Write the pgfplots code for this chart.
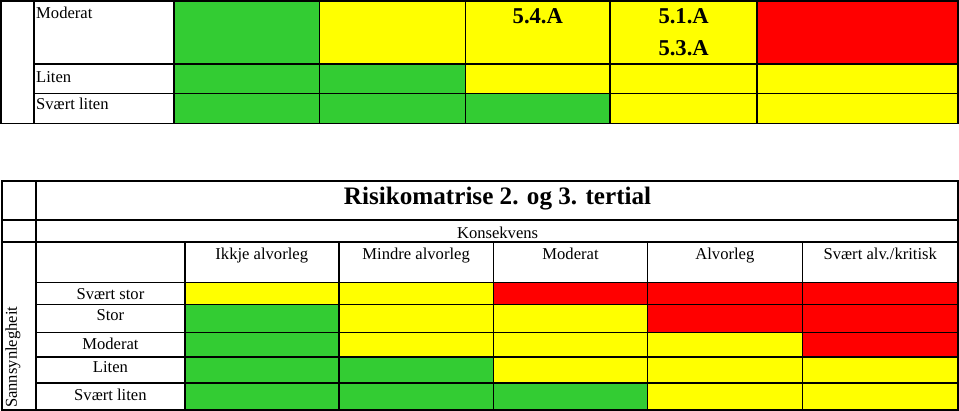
\documentclass[border=0pt]{standalone}
\usepackage{pgfplots}
\pgfplotsset{compat=1.18}
\usepackage{fontspec}
\setmainfont{Liberation Serif}

\definecolor{rgreen}{RGB}{51,204,51}
\definecolor{ryellow}{RGB}{255,255,0}
\definecolor{rred}{RGB}{255,0,0}

% one table cell: x0 x1 y0 y1 fill
\newcommand{\cell}[5]{%
  \addplot[fill=#5, draw=black, line width=1.6pt, line join=miter]
    coordinates {(#1,#3) (#2,#3) (#2,#4) (#1,#4)} -- cycle;}

\newcommand{\txt}{\fontsize{16.5}{18}\selectfont}

\begin{document}
\begin{tikzpicture}
\begin{axis}[
    width=959pt, height=420pt, scale only axis,
    xmin=0, xmax=959, ymin=0, ymax=420,
    y dir=reverse,
    hide axis, clip=false,
  ]
  % ---- upper (cut off) matrix ----
  \cell{3}{36}{5}{127}{white}
  \cell{36}{175}{5}{68}{white}
  \cell{36}{175}{68}{97}{white}
  \cell{36}{175}{97}{127}{white}
  % row Moderat
  \cell{175}{320}{5}{68}{rgreen}
  \cell{320}{465}{5}{68}{ryellow}
  \cell{465}{609}{5}{68}{ryellow}
  \cell{609}{755}{5}{68}{ryellow}
  \cell{755}{955}{5}{68}{rred}
  % row Liten
  \cell{175}{320}{68}{97}{rgreen}
  \cell{320}{465}{68}{97}{rgreen}
  \cell{465}{609}{68}{97}{ryellow}
  \cell{609}{755}{68}{97}{ryellow}
  \cell{755}{955}{68}{97}{ryellow}
  % row Svaert liten
  \cell{175}{320}{97}{127}{rgreen}
  \cell{320}{465}{97}{127}{rgreen}
  \cell{465}{609}{97}{127}{rgreen}
  \cell{609}{755}{97}{127}{ryellow}
  \cell{755}{955}{97}{127}{ryellow}

  \node[anchor=base west, inner sep=0pt] at (axis cs:38,23) {\txt Moderat};
  \node[anchor=base west, inner sep=0pt] at (axis cs:38,86) {\txt Liten};
  \node[anchor=base west, inner sep=0pt] at (axis cs:38,113) {\txt Svært liten};
  \node[anchor=base, inner sep=0pt] at (axis cs:537,28) {\fontsize{22.5}{24}\selectfont\bfseries 5.4.A};
  \node[anchor=base, inner sep=0pt] at (axis cs:682,28) {\fontsize{22.5}{24}\selectfont\bfseries 5.1.A};
  \node[anchor=base, inner sep=0pt] at (axis cs:682,59) {\fontsize{22.5}{24}\selectfont\bfseries 5.3.A};

  % ---- lower matrix ----
  \cell{4}{38}{184}{223}{white}
  \cell{4}{38}{223}{245}{white}
  \cell{4}{38}{245}{412}{white}
  \cell{38}{955}{184}{223}{white}
  \cell{38}{955}{223}{245}{white}
  \cell{38}{186}{245}{285}{white}
  \cell{186}{339}{245}{285}{white}
  \cell{339}{493}{245}{285}{white}
  \cell{493}{646}{245}{285}{white}
  \cell{646}{800}{245}{285}{white}
  \cell{800}{955}{245}{285}{white}
  \cell{38}{186}{285}{307}{white}
  \cell{38}{186}{307}{335}{white}
  \cell{38}{186}{335}{359}{white}
  \cell{38}{186}{359}{385}{white}
  \cell{38}{186}{385}{412}{white}
  % Svaert stor
  \cell{186}{339}{285}{307}{ryellow}
  \cell{339}{493}{285}{307}{ryellow}
  \cell{493}{646}{285}{307}{rred}
  \cell{646}{800}{285}{307}{rred}
  \cell{800}{955}{285}{307}{rred}
  % Stor
  \cell{186}{339}{307}{335}{rgreen}
  \cell{339}{493}{307}{335}{ryellow}
  \cell{493}{646}{307}{335}{ryellow}
  \cell{646}{800}{307}{335}{rred}
  \cell{800}{955}{307}{335}{rred}
  % Moderat
  \cell{186}{339}{335}{359}{rgreen}
  \cell{339}{493}{335}{359}{ryellow}
  \cell{493}{646}{335}{359}{ryellow}
  \cell{646}{800}{335}{359}{ryellow}
  \cell{800}{955}{335}{359}{rred}
  % Liten
  \cell{186}{339}{359}{385}{rgreen}
  \cell{339}{493}{359}{385}{rgreen}
  \cell{493}{646}{359}{385}{ryellow}
  \cell{646}{800}{359}{385}{ryellow}
  \cell{800}{955}{359}{385}{ryellow}
  % Svaert liten
  \cell{186}{339}{385}{412}{rgreen}
  \cell{339}{493}{385}{412}{rgreen}
  \cell{493}{646}{385}{412}{rgreen}
  \cell{646}{800}{385}{412}{ryellow}
  \cell{800}{955}{385}{412}{ryellow}

  \node[anchor=base, inner sep=0pt] at (axis cs:497,208) {\fontsize{25}{27}\selectfont\bfseries Risikomatrise 2. og 3. tertial};
  \node[anchor=base, inner sep=0pt] at (axis cs:497,241) {\txt Konsekvens};
  \node[anchor=base, inner sep=0pt] at (axis cs:262.5,262) {\txt Ikkje alvorleg};
  \node[anchor=base, inner sep=0pt] at (axis cs:416,262) {\txt Mindre alvorleg};
  \node[anchor=base, inner sep=0pt] at (axis cs:569.5,262) {\txt Moderat};
  \node[anchor=base, inner sep=0pt] at (axis cs:723,262) {\txt Alvorleg};
  \node[anchor=base, inner sep=0pt] at (axis cs:877.5,262) {\txt Svært alv./kritisk};
  \node[anchor=base, inner sep=0pt] at (axis cs:112,302) {\txt Svært stor};
  \node[anchor=base, inner sep=0pt] at (axis cs:112,323) {\txt Stor};
  \node[anchor=base, inner sep=0pt] at (axis cs:112,352) {\txt Moderat};
  \node[anchor=base, inner sep=0pt] at (axis cs:112,375) {\txt Liten};
  \node[anchor=base, inner sep=0pt] at (axis cs:112,402) {\txt Svært liten};
  \node[rotate=90, anchor=base west, inner sep=0pt] at (axis cs:19,410) {\txt Sannsynlegheit};
\end{axis}
\end{tikzpicture}
\end{document}
